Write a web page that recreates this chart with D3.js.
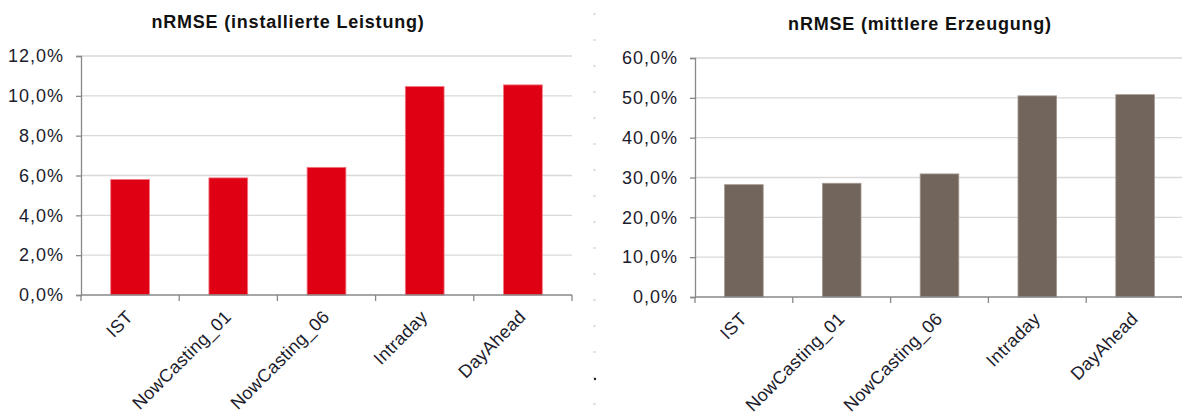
<!DOCTYPE html>
<html>
<head>
<meta charset="utf-8">
<script src="https://cdn.jsdelivr.net/npm/d3@7"></script>
<style>
  html, body { margin: 0; padding: 0; background: #fff; }
  svg { display: block; font-family: "Liberation Sans", Arial, sans-serif; }
</style>
</head>
<body>
<svg id="chart" width="1182" height="417"></svg>
<script>
const categories = ["IST", "NowCasting_01", "NowCasting_06", "Intraday", "DayAhead"];
const valuesInstalled = [5.8, 5.88, 6.41, 10.47, 10.55];   // % nRMSE (installierte Leistung)
const valuesMean = [28.2, 28.55, 30.9, 50.5, 50.8];          // % nRMSE (mittlere Erzeugung)
const ticksInstalled = [0, 2, 4, 6, 8, 10, 12];
const ticksMean = [0, 10, 20, 30, 40, 50, 60];
const titleInstalled = "nRMSE (installierte Leistung)";
const titleMean = "nRMSE (mittlere Erzeugung)";

const svg = d3.select("#chart");
const fmt = v => d3.format(".1f")(v).replace(".", ",") + "%";

function drawPanel(cfg) {
  const g = svg.append("g");
  const x = d3.scaleBand().domain(categories).range([cfg.left, cfg.right]).padding(0);
  const y = d3.scaleLinear().domain([0, cfg.max]).range([cfg.bottom, cfg.top]);

  // gridlines
  g.append("g").selectAll("line").data(cfg.ticks.filter(t => t > 0)).join("line")
    .attr("x1", cfg.left).attr("x2", cfg.right)
    .attr("y1", d => y(d)).attr("y2", d => y(d))
    .attr("stroke", "#d9d9d9").attr("stroke-width", 1.3);

  // bars
  const bw = x.step() * 0.395;
  g.append("g").selectAll("rect").data(cfg.values).join("rect")
    .attr("x", (d, i) => x(categories[i]) + x.bandwidth() / 2 - bw / 2)
    .attr("y", d => y(d))
    .attr("width", bw)
    .attr("height", d => y(0) - y(d))
    .attr("fill", cfg.color)
    .attr("stroke", cfg.edge).attr("stroke-width", 0.8);

  // y axis
  const yAxis = d3.axisLeft(y).tickValues(cfg.ticks).tickFormat(fmt).tickSize(5).tickPadding(12);
  const ya = g.append("g").attr("transform", `translate(${cfg.left},0)`).call(yAxis);
  ya.select(".domain").attr("stroke", "#888").attr("stroke-width", 1.3);
  ya.selectAll(".tick line").attr("stroke", "#888").attr("stroke-width", 1.3);
  ya.selectAll(".tick text").attr("fill", "#1c1c2c").style("font-size", "18px")
    .style("letter-spacing", "1px");

  // x axis
  const xa = g.append("g").attr("transform", `translate(0,${cfg.bottom})`);
  xa.append("line").attr("x1", cfg.left).attr("x2", cfg.right)
    .attr("y1", 0).attr("y2", 0).attr("stroke", "#888").attr("stroke-width", 1.3);
  const bounds = categories.map(c => x(c)).concat([cfg.right]);
  xa.selectAll("line.tk").data(bounds).join("line").attr("class", "tk")
    .attr("x1", d => d).attr("x2", d => d).attr("y1", 0).attr("y2", 6)
    .attr("stroke", "#888").attr("stroke-width", 1.3);
  xa.selectAll("text").data(categories).join("text")
    .attr("transform", d => `translate(${x(d) + x.bandwidth() / 2 + 4},${23}) rotate(-45)`)
    .attr("text-anchor", "end")
    .attr("fill", "#1c1c2c")
    .style("font-size", "18px")
    .style("letter-spacing", "0.3px")
    .text(d => d);

  // title
  g.append("text").attr("x", cfg.titleX).attr("y", cfg.titleY)
    .attr("text-anchor", "middle").attr("fill", "#111")
    .style("font-size", "18px").style("font-weight", "bold").style("letter-spacing", "0.8px")
    .text(cfg.title);
}

drawPanel({
  left: 81, right: 572, top: 56, bottom: 295, max: 12,
  ticks: ticksInstalled, values: valuesInstalled,
  color: "#df0014", edge: "#f27a85",
  title: titleInstalled, titleX: 288, titleY: 28
});

drawPanel({
  left: 695, right: 1184, top: 58, bottom: 297, max: 60,
  ticks: ticksMean, values: valuesMean,
  color: "#72655b", edge: "#a59a92",
  title: titleMean, titleX: 920, titleY: 30
});

// faint separator dashes between the panels
svg.append("g").selectAll("line").data(d3.range(14, 410, 26)).join("line")
  .attr("x1", 593).attr("x2", 596).attr("y1", d => d).attr("y2", d => d)
  .attr("stroke", "#c8c8c8").attr("stroke-width", 1);
svg.append("circle").attr("cx", 595).attr("cy", 379).attr("r", 1.2).attr("fill", "#222");
</script>
</body>
</html>
